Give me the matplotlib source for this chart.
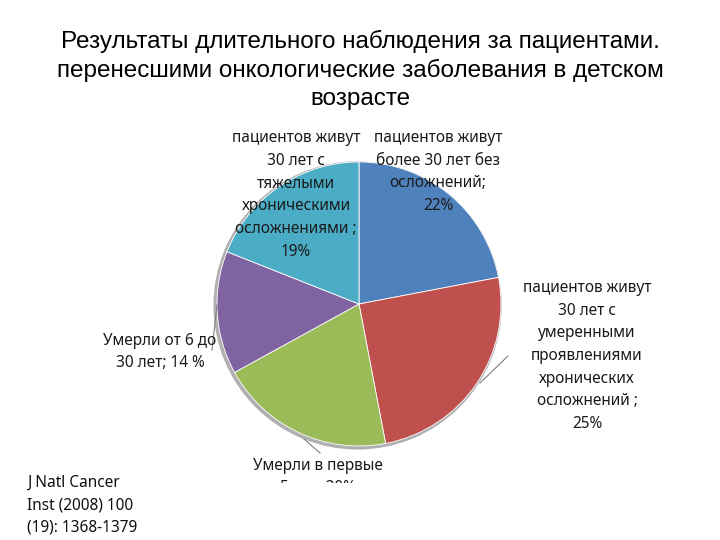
import matplotlib
matplotlib.use("Agg")
import matplotlib.pyplot as plt
from matplotlib.lines import Line2D
from matplotlib.patches import Rectangle

plt.rcParams['font.family'] = ['Noto Sans', 'DejaVu Sans']

title = ("Результаты длительного наблюдения за пациентами.\n"
         "перенесшими онкологические заболевания в детском\n"
         "возрасте")

# clockwise from 12 o'clock
values = [22, 25, 20, 14, 19]
colors = ['#4F81BD', '#C0504D', '#9BBB59', '#8064A2', '#4BACC6']
labels = [
    "пациентов живут\nболее 30 лет без\nосложнений;\n22%",
    "пациентов живут\n30 лет с\nумеренными\nпроявлениями\nхронических\nосложнений ;\n25%",
    "Умерли в первые\n5 лет; 20%",
    "Умерли от 6 до\n30 лет; 14 %",
    "пациентов живут\n30 лет с\nтяжелыми\nхроническими\nосложнениями ;\n19%",
]
source = "J Natl Cancer\nInst (2008) 100\n(19): 1368-1379"

W, H = 720, 540
# label centres in pixels (x from left, y from top)
label_pos = [(438, 172), (587, 356), (318, 477), (160, 352), (296, 195)]
leaders = [None, [(508, 356), (480, 383)], [(304, 439), (320, 453)],
           [(217, 305), (212, 350)], None]


def fx(x):
    return x / W


def fy(y):
    return 1 - y / H


fig = plt.figure(figsize=(7.2, 5.4), dpi=100)
fig.patch.set_facecolor('white')

cx, cy, r = 359, 304, 142
ax = fig.add_axes([fx(cx - r), fy(cy + r), 2 * r / W, 2 * r / H])
# soft shadow behind the pie
sh, _ = ax.pie([1], colors=['#b0b0b0'], radius=1.015, center=(-0.01, -0.01),
               wedgeprops=dict(linewidth=0))
for w in sh:
    w.set_clip_on(False)
wedges, _ = ax.pie(values, colors=colors, startangle=90, counterclock=False,
                   wedgeprops=dict(linewidth=0.6, edgecolor='white'))
for w in wedges:
    w.set_clip_on(False)
ax.set_xlim(-1, 1)
ax.set_ylim(-1, 1)
ax.set_aspect('equal')
ax.axis('off')

fig.text(0.5, fy(70), title, ha='center', va='center', fontsize=17.5,
         family=['Liberation Sans', 'DejaVu Sans'], linespacing=1.32)

for lab, (x, y) in zip(labels, label_pos):
    fig.text(fx(x), fy(y), lab, ha='center', va='center', fontsize=11.1,
             color='#1a1a1a', linespacing=1.55)

for seg in leaders:
    if seg is None:
        continue
    (x0, y0), (x1, y1) = seg
    fig.add_artist(Line2D([fx(x0), fx(x1)], [fy(y0), fy(y1)],
                          color='#808080', linewidth=0.8))

# the bottom of the original slide is cut off here
fig.add_artist(Rectangle((fx(230), 0), fx(200), fy(483), transform=fig.transFigure,
                         facecolor='white', edgecolor='none', zorder=5))

fig.text(fx(27), fy(505), source, ha='left', va='center', fontsize=11.1,
         color='#111111', linespacing=1.55, zorder=6)

fig.savefig("out.png", dpi=100)
